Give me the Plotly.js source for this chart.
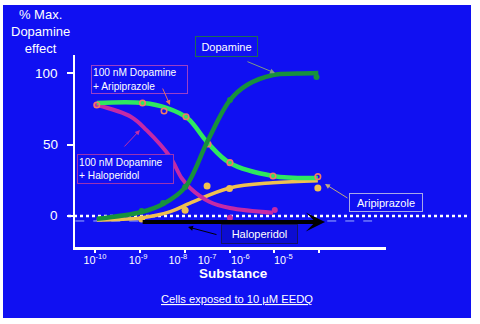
<!DOCTYPE html>
<html><head><meta charset="utf-8">
<script src="https://cdn.plot.ly/plotly-3.0.1.min.js"></script>
<style>html,body{margin:0;padding:0;background:#fff;}#chart{position:absolute;left:3px;top:5px;width:468px;height:313px;}</style>
</head><body><div id="chart"></div>
<script>
// x values are log10 of molar concentration
const tickPos = [-10, -9, -8, -7, -6, -5];
const tickLabelPos = [-10, -9.04, -8.15, -7.5, -6.76, -5.8];
const tickLabels = ['10<sup>-10</sup>', '10<sup>-9</sup>', '10<sup>-8</sup>', '10<sup>-7</sup>', '10<sup>-6</sup>', '10<sup>-5</sup>'];
const yTicks = [0, 50, 100];
const yTickLabels = ['0', '50', '100'];

// Dopamine alone
const dopX = [-8.96, -8.48, -7.99, -6.99, -5.06];
const dopY = [3.5, 9.1, 20.3, 81.1, 97.2];
const dopCurveX = [-9.96, -8.96, -8.48, -7.99, -7.48, -6.99, -6.61, -6.03, -5.5, -5.02];
const dopCurveY = [-2, 2.8, 8.4, 20, 53, 81, 91.6, 98.6, 99.6, 100];

// 100 nM Dopamine + Aripiprazole
const ariDaX = [-9.96, -8.94, -8.46, -7.97, -7.48, -6.99, -6.03, -5.03];
const ariDaY = [77.6, 79, 73.4, 69.4, 50.3, 37.3, 28, 27.5];
const ariDaCurveX = [-9.96, -8.92, -8.39, -7.94, -7.48, -6.99, -6.03, -5.03];
const ariDaCurveY = [79, 79, 75.5, 68.5, 51, 37, 28, 26.6];

// 100 nM Dopamine + Haloperidol
const haloDaX = [-9.96, -6.99, -5.99];
const haloDaY = [77.6, -1.2, 4.2];
const haloDaCurveX = [-9.96, -9.2, -8.85, -8.33, -8.07, -7.88, -7.45, -6.99, -6.03];
const haloDaCurveY = [77.6, 69.4, 60, 41.5, 26.6, 19.6, 10, 5.6, 2.3];

// Aripiprazole alone
const ariX = [-8.96, -7.99, -7.5, -7.0, -5.03];
const ariY = [-2.1, 4.0, 21, 19.2, 19.6];
const ariCurveX = [-9.96, -8.99, -8.32, -7.88, -7.0, -6.03, -5.03];
const ariCurveY = [-2.8, -1.4, 3, 9, 19.6, 23.3, 24.7];

// Haloperidol alone (flat arrow) and thin baseline
const haloArrowX = [-8.97, -4.87];
const haloArrowY = [-4.2, -4.2];
const baseX = [-10.44, -3.82];
const baseY = [-3.5, -3.5];

const FONT = 'Liberation Sans, Arial, sans-serif';
const BLUE = '#1010f2';
const cDop = '#17913c', cAriDa = '#2ee860', cHaloDa = '#c42aa6', cAri = '#f0c050';

const traces = [
  {x: baseX, y: baseY, mode: 'lines', line: {color: '#9fb0ff', width: 1, dash: 'dash'}, hoverinfo: 'skip'},
  {x: ariCurveX, y: ariCurveY, mode: 'lines', line: {color: cAri, width: 3.5, shape: 'spline'}},
  {x: ariX, y: ariY, mode: 'markers', marker: {color: cAri, size: 7}},
  {x: haloDaCurveX, y: haloDaCurveY, mode: 'lines', line: {color: cHaloDa, width: 4, shape: 'spline'}},
  {x: haloDaX, y: haloDaY, mode: 'markers', marker: {color: cHaloDa, size: 6}},
  {x: ariDaCurveX, y: ariDaCurveY, mode: 'lines', line: {color: cAriDa, width: 4.5, shape: 'spline'}},
  {x: ariDaX, y: ariDaY, mode: 'markers', marker: {symbol: 'circle-open', color: '#f27a66', size: 5.5, line: {width: 1.6}}},
  {x: dopCurveX, y: dopCurveY, mode: 'lines', line: {color: cDop, width: 4.5, shape: 'spline'}},
  {x: dopX, y: dopY, mode: 'markers', marker: {color: cDop, size: 6}},
  {x: [tickLabelPos[0]], y: [0], xaxis: 'x2', mode: 'markers', marker: {opacity: 0}, hoverinfo: 'skip'}
];

const px = (p) => (p - 75) / 311;
const py = (p) => (247 - p) / 192;

function box(text, cx, cy, w, h, border, fill, size, align) {
  return {xref: 'paper', yref: 'paper', x: px(cx), y: py(cy), xanchor: 'center', yanchor: 'middle',
    text: text, showarrow: false, width: w - 3, height: h - 3, borderpad: 1, borderwidth: 1,
    bordercolor: border, bgcolor: fill, align: align || 'center',
    font: {family: FONT, size: size, color: '#ffffff'}};
}
function arrow(x, y, ax, ay, color) {
  return {x: x, y: y, ax: ax, ay: ay, text: '', showarrow: true, arrowhead: 2, arrowsize: 1,
    arrowwidth: 1, arrowcolor: color};
}

const annotations = [
  box('Dopamine', 226, 47, 62, 20, '#1d6a55', BLUE, 11),
  box('100 nM Dopamine<br>+ Aripiprazole', 139, 79, 96, 28, '#9a40c8', BLUE, 10.2, 'left'),
  box('100 nM Dopamine<br>+ Haloperidol', 125, 168.5, 96, 29, '#9a34b4', BLUE, 10.2, 'left'),
  box('Aripiprazole', 385.5, 202, 73, 18, '#a8a8e8', BLUE, 11),
  box('Haloperidol', 259, 233.5, 76, 19, '#141466', '#0c0cd2', 11),
  arrow(-5.986, 100.0, -29, -12, '#7e9a86'),
  arrow(-8.327, 77.6, -8, -18, '#e87060'),
  arrow(-8.996, 60.15, -17, 18, '#c030a8'),
  arrow(-4.871, 22.4, 24, 15, '#c0aa80'),
  arrow(-7.926, -7.69, 30, 8, '#000000'),
  {x: haloArrowX[1], y: haloArrowY[1], ax: haloArrowX[0], ay: haloArrowY[0], axref: 'x', ayref: 'y',
   text: '', showarrow: true, arrowhead: 3, arrowsize: 0.8, arrowwidth: 4, arrowcolor: '#000000'},
  {xref: 'paper', yref: 'paper', x: px(40), y: py(32), xanchor: 'center', yanchor: 'middle', showarrow: false,
   text: '% Max.<br>Dopamine<br>effect', align: 'center', font: {family: FONT, size: 13, color: '#ffffff'}},
  {xref: 'paper', yref: 'paper', x: px(233), y: py(273), xanchor: 'center', yanchor: 'middle', showarrow: false,
   text: '<b>Substance</b>', font: {family: FONT, size: 13.5, color: '#ffffff'}},
  {xref: 'paper', yref: 'paper', x: px(236.5), y: py(299), xanchor: 'center', yanchor: 'middle', showarrow: false,
   text: '<u>Cells exposed to 10 µM EEDQ</u>', font: {family: FONT, size: 11.2, color: '#ffffff'}}
];
yTicks.forEach((v, i) => annotations.push({xref: 'paper', yref: 'y', x: px(60), y: v, xanchor: 'right', yanchor: 'middle',
  showarrow: false, text: yTickLabels[i], font: {family: FONT, size: 13.5, color: '#ffffff'}}));

const layout = {
  width: 468, height: 313,
  margin: {l: 72, r: 85, t: 50, b: 71},
  paper_bgcolor: BLUE, plot_bgcolor: 'rgba(0,0,0,0)',
  showlegend: false,
  font: {family: FONT, color: '#ffffff'},
  xaxis: {range: [-10.446, -3.51], tickvals: tickPos, showticklabels: false,
    ticks: 'outside', ticklen: 3, tickwidth: 2, tickcolor: '#ffffff',
    showline: true, linecolor: '#ffffff', linewidth: 2.5, showgrid: false, zeroline: false, fixedrange: true},
  xaxis2: {range: [-10.446, -3.51], overlaying: 'x', anchor: 'y', side: 'bottom', tickvals: tickLabelPos, ticktext: tickLabels,
    ticks: '', showline: false, showgrid: false, zeroline: false, ticklabelstandoff: 5,
    tickfont: {family: FONT, size: 10.8, color: '#ffffff'}},
  yaxis: {range: [-21.7, 112.6], tickvals: yTicks, showticklabels: false,
    ticks: 'outside', ticklen: 6, tickwidth: 2, tickcolor: '#ffffff',
    showline: true, linecolor: '#ffffff', linewidth: 2.5, showgrid: false, zeroline: false},
  shapes: [
    {type: 'line', xref: 'paper', yref: 'paper', x0: px(68), x1: px(470), y0: py(216), y1: py(216),
     line: {color: '#ffffff', width: 2.5, dash: 'dot'}, layer: 'below'}
  ],
  annotations: annotations
};

Plotly.newPlot('chart', traces, layout, {displayModeBar: false, staticPlot: true});
</script></body></html>
